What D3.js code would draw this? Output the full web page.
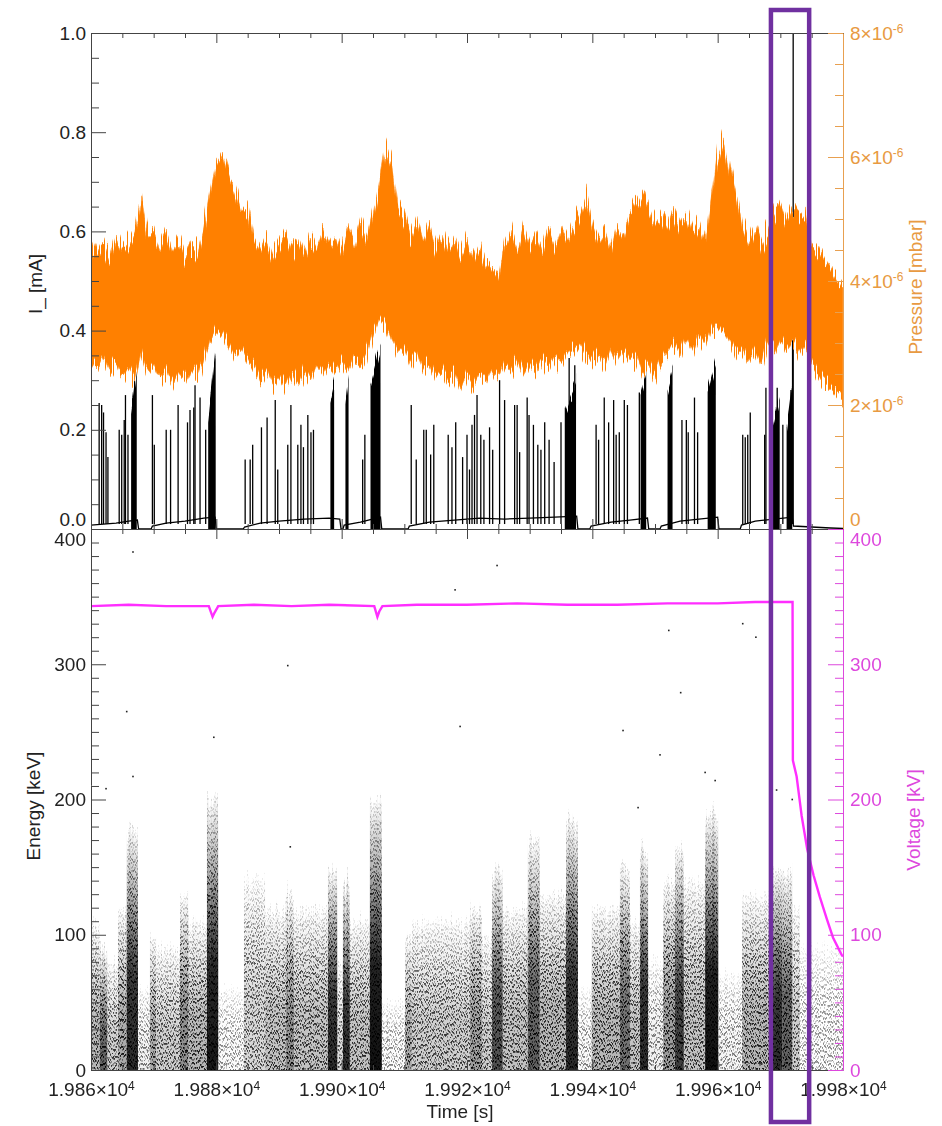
<!DOCTYPE html>
<html>
<head>
<meta charset="utf-8">
<script src="https://cdn.jsdelivr.net/npm/d3@7"></script>
<style>
  body { margin: 0; background: #fff; }
  svg text { font-family: "Liberation Sans", Arial, sans-serif; }
</style>
</head>
<body>
<div id="chart"></div>
<script>
// ---- values ----
var timeDomain = [19860, 19980];
var timeTicks = [19860, 19880, 19900, 19920, 19940, 19960, 19980];

// pressure band (units of 1e-6 mbar), one sample per second from 19860 s
var pressStart = 19860;
var pressUpper = [4.66, 4.42, 4.58, 4.37, 4.71, 4.50, 4.63, 4.79, 5.31, 4.74,
  4.85, 4.58, 4.79, 4.50, 4.66, 4.42, 4.61, 4.50, 4.85, 5.39,
  5.87, 6.03, 5.71, 5.47, 5.15, 5.18, 4.66, 4.50, 4.69, 4.42,
  4.58, 4.74, 4.50, 4.66, 4.42, 4.69, 4.53, 4.79, 4.58, 4.74,
  4.50, 4.82, 4.58, 4.90, 4.66, 5.06, 5.55, 6.11, 5.87, 5.23,
  5.06, 4.74, 4.98, 4.66, 4.90, 4.58, 4.79, 4.50, 4.69, 4.42,
  4.66, 4.37, 4.58, 4.31, 4.18, 4.06, 4.58, 4.79, 4.50, 4.85,
  4.58, 4.74, 4.50, 4.82, 4.58, 4.85, 4.66, 4.90, 5.06, 5.31,
  4.90, 4.66, 4.82, 4.53, 4.90, 4.74, 5.06, 5.23, 5.39, 5.15,
  4.90, 5.06, 4.85, 5.11, 4.90, 5.06, 4.79, 4.95, 4.66, 5.31,
  6.03, 6.31, 5.79, 5.39, 4.90, 4.66, 4.90, 4.63, 4.82, 5.06,
  5.23, 4.98, 5.18, 5.06, 5.11, 4.58, 4.50, 4.34, 4.21, 4.05, 3.94];
var pressLower = [2.73, 2.60, 2.76, 2.53, 2.65, 2.44, 2.56, 2.40, 2.81, 2.53,
  2.60, 2.40, 2.53, 2.32, 2.48, 2.37, 2.56, 2.44, 2.73, 3.05,
  3.21, 3.13, 2.97, 2.81, 2.89, 2.73, 2.60, 2.40, 2.53, 2.32,
  2.44, 2.29, 2.48, 2.32, 2.53, 2.40, 2.60, 2.48, 2.65, 2.53,
  2.69, 2.56, 2.76, 2.65, 2.81, 3.13, 3.37, 3.29, 3.05, 2.85,
  2.92, 2.69, 2.81, 2.56, 2.65, 2.44, 2.53, 2.37, 2.48, 2.24,
  2.44, 2.32, 2.48, 2.37, 2.56, 2.44, 2.65, 2.53, 2.69, 2.48,
  2.65, 2.53, 2.73, 2.60, 2.76, 2.65, 2.81, 2.89, 2.97, 2.81,
  2.69, 2.81, 2.65, 2.89, 2.69, 2.85, 2.73, 2.76, 2.53, 2.65,
  2.48, 2.69, 2.85, 2.97, 2.81, 3.05, 2.85, 3.08, 2.97, 3.21,
  3.24, 3.18, 3.02, 2.81, 2.89, 2.69, 2.85, 2.65, 2.97, 2.85,
  3.05, 2.89, 3.02, 2.85, 2.97, 2.65, 2.48, 2.37, 2.27, 2.16, 2.11];

// current baseline [s] / [mA]
var baseTime = [19860, 19862, 19864, 19866, 19867.4, 19867.6, 19869.6, 19869.8, 19872, 19875,
  19878, 19879.8, 19880, 19884.3, 19884.5, 19887, 19890, 19894, 19898, 19899.7,
  19899.9, 19900.2, 19900.4, 19903, 19906.2, 19906.4, 19910.6, 19910.8, 19914, 19918,
  19922, 19926, 19930, 19934, 19937.5, 19937.7, 19939.6, 19939.8, 19943, 19946,
  19948.8, 19949, 19950.8, 19951, 19954, 19957, 19960, 19960.2, 19963.6, 19963.8,
  19966, 19969, 19971.9, 19972.1, 19975, 19978, 19980];
var baseCurrent = [0.008, 0.010, 0.012, 0.016, 0.018, 0, 0, 0.006, 0.012, 0.016,
  0.022, 0.024, 0, 0, 0.004, 0.012, 0.016, 0.020, 0.022, 0.020,
  0, 0, 0.008, 0.014, 0.024, 0, 0, 0.006, 0.014, 0.018,
  0.022, 0.020, 0.022, 0.024, 0.026, 0, 0, 0.006, 0.014, 0.018,
  0.022, 0, 0, 0.006, 0.016, 0.020, 0.024, 0, 0, 0.008,
  0.016, 0.020, 0.024, 0.006, 0.004, 0.002, 0.001];

// single discharge spikes
var spikeTime = [19861.3, 19861.7, 19862.0, 19862.4, 19862.7, 19864.5, 19864.9, 19865.3, 19865.5, 19865.9,
  19869.8, 19870.1, 19872.0, 19872.7, 19873.9, 19875.4, 19875.8, 19876.4, 19876.6, 19877.4,
  19878.3, 19884.6, 19885.4, 19885.8, 19887.2, 19888.1, 19889.4, 19889.8, 19891.4, 19891.9,
  19893.0, 19893.5, 19893.9, 19894.6, 19895.1, 19895.5, 19903.35, 19903.7, 19911.1, 19911.9,
  19913.1, 19913.5, 19914.2, 19914.7, 19917.0, 19917.6, 19918.2, 19919.3, 19920.0, 19920.4,
  19920.8, 19921.2, 19921.6, 19922.2, 19922.7, 19923.6, 19924.1, 19925.2, 19926.0, 19927.6,
  19928.0, 19928.4, 19929.6, 19929.9, 19930.6, 19931.3, 19931.8, 19932.4, 19933.1, 19933.9,
  19935.0, 19936.3, 19937.2, 19940.6, 19941.0, 19941.9, 19942.6, 19943.4, 19943.8, 19944.3,
  19945.1, 19945.6, 19947.5, 19954.3, 19955.0, 19955.3, 19956.3, 19956.8, 19964.0, 19964.4,
  19964.8, 19965.2, 19967.5, 19967.7, 19969.5, 19970.4, 19971.2, 19971.7, 19971.95, 19972.05];
var spikeHeight = [0.254, 0.25, 0.235, 0.195, 0.145, 0.20, 0.19, 0.22, 0.27, 0.19,
  0.27, 0.17, 0.20, 0.20, 0.25, 0.215, 0.24, 0.245, 0.29, 0.265,
  0.20, 0.14, 0.14, 0.17, 0.205, 0.225, 0.26, 0.12, 0.17, 0.25,
  0.17, 0.21, 0.165, 0.23, 0.195, 0.20, 0.14, 0.19, 0.25, 0.14,
  0.20, 0.20, 0.15, 0.21, 0.19, 0.165, 0.215, 0.145, 0.19, 0.12,
  0.21, 0.23, 0.27, 0.19, 0.18, 0.205, 0.16, 0.30, 0.26, 0.25,
  0.25, 0.155, 0.265, 0.23, 0.21, 0.17, 0.16, 0.215, 0.18, 0.135,
  0.215, 0.345, 0.33, 0.21, 0.18, 0.265, 0.215, 0.26, 0.19, 0.195,
  0.26, 0.25, 0.275, 0.22, 0.22, 0.195, 0.265, 0.195, 0.19, 0.185,
  0.19, 0.235, 0.19, 0.285, 0.285, 0.21, 0.17, 0.28, 0.38, 1.0];

// dense spike bursts: start, end, height at start, height at end
var burstStart = [19866.4, 19878.7, 19898.2, 19900.6, 19904.6, 19935.6, 19947.7, 19952.0, 19958.4, 19968.6, 19971.0];
var burstEnd   = [19867.3, 19879.9, 19898.8, 19901.1, 19906.2, 19937.4, 19948.6, 19952.8, 19959.7, 19969.9, 19971.9];
var burstLow   = [0.24, 0.22, 0.26, 0.26, 0.29, 0.24, 0.27, 0.28, 0.28, 0.20, 0.20];
var burstHigh  = [0.33, 0.37, 0.295, 0.315, 0.37, 0.30, 0.315, 0.32, 0.345, 0.27, 0.29];

// detected X-ray events: bands of time with upper energy [keV] and density
var bandStart = [19860.0, 19861.4, 19862.6, 19864.3, 19865.7, 19867.5, 19869.4, 19870.4, 19874.2, 19875.5,
  19878.5, 19880.3, 19884.4, 19887.8, 19891.1, 19892.4, 19897.8, 19899.3, 19900.2, 19901.3,
  19904.5, 19906.4, 19910.1, 19911.2, 19920.5, 19922.4, 19924.0, 19925.7, 19929.7, 19931.6,
  19935.8, 19937.7, 19939.9, 19944.4, 19946.0, 19947.6, 19948.9, 19951.3, 19953.2, 19954.6,
  19958.0, 19960.1, 19963.9, 19968.3, 19970.3, 19971.9, 19973.1];
var bandEnd = [19861.4, 19862.6, 19864.3, 19865.7, 19867.5, 19869.4, 19870.4, 19874.2, 19875.5, 19878.5,
  19880.3, 19884.4, 19887.8, 19891.1, 19892.4, 19897.8, 19899.3, 19900.2, 19901.3, 19904.5,
  19906.4, 19910.1, 19911.2, 19920.5, 19922.4, 19924.0, 19925.7, 19929.7, 19931.6, 19935.8,
  19937.7, 19939.9, 19944.4, 19946.0, 19947.6, 19948.9, 19951.3, 19953.2, 19954.6, 19958.0,
  19960.1, 19963.9, 19968.3, 19970.3, 19971.9, 19973.1, 19980.0];
var bandTop = [110, 90, 80, 120, 180, 60, 100, 90, 130, 110,
  200, 60, 140, 120, 130, 120, 150, 80, 140, 110,
  200, 50, 100, 110, 120, 100, 150, 120, 170, 130,
  185, 60, 120, 150, 110, 165, 80, 140, 165, 140,
  190, 70, 130, 150, 150, 120, 90];
var bandDensity = [0.45, 0.75, 0.35, 0.5, 0.9, 0.15, 0.5, 0.35, 0.6, 0.45,
  0.95, 0.08, 0.3, 0.4, 0.6, 0.4, 0.9, 0.3, 0.9, 0.4,
  0.97, 0.08, 0.5, 0.35, 0.55, 0.35, 0.8, 0.4, 0.75, 0.45,
  0.9, 0.1, 0.45, 0.7, 0.4, 0.9, 0.15, 0.55, 0.85, 0.4,
  0.97, 0.12, 0.45, 0.9, 0.75, 0.35, 0.05];

// isolated high-energy events
var eventTime = [19866.7, 19865.7, 19866.7, 19879.6, 19862.4, 19891.4, 19891.8, 19918.9, 19918.1, 19924.8,
  19944.9, 19950.8, 19952.2, 19954.1, 19958.0, 19959.6, 19964.0, 19966.1, 19969.4, 19947.3, 19971.9];
var eventEnergy = [383, 265, 217, 246, 208, 299, 165, 254, 355, 373,
  251, 233, 325, 279, 220, 214, 330, 320, 207, 194, 200];

// accelerating voltage [kV]
var voltTime = [19860, 19866, 19872, 19878.8, 19879.4, 19879.7, 19880.3, 19886, 19892, 19898,
  19905.2, 19905.7, 19906.0, 19906.5, 19912, 19920, 19928, 19936, 19944, 19952,
  19960, 19966, 19971.95, 19972.0, 19972.6, 19973.4, 19974.3, 19975.3, 19976.3, 19977.4,
  19978.4, 19979.8, 19980];
var voltValue = [343, 344, 343, 343, 335, 338, 343, 344, 343, 344,
  343, 335, 339, 343, 344, 344, 345, 344, 344, 345,
  345, 346, 346, 229, 217, 188, 163, 144, 128, 112,
  98, 85, 84];

// highlighted interval
var boxTime = [19968.5, 19974.6];

// ---- layout ----
var W = 942, H = 1126;
var left = 91, right = 843, top1 = 33, mid = 529, bot = 1070;
var orange = "#ff8000", orangeText = "#e89a42", magenta = "#ff2eff", magentaText = "#dd48dd";
var axisColor = "#444";

var svg = d3.select("#chart").append("svg")
  .attr("width", W).attr("height", H)
  .style("background", "#fff");

var defs = svg.append("defs");
defs.append("clipPath").attr("id", "clipTop").append("rect")
  .attr("x", left).attr("y", top1).attr("width", right - left).attr("height", mid - top1);
defs.append("clipPath").attr("id", "clipBot").append("rect")
  .attr("x", left).attr("y", mid).attr("width", right - left).attr("height", bot - mid);

// hairline texture: shift each pixel column up/down a little, so the
// filled envelopes look like the densely sampled traces of the original
function hairFilter(id, freq, amount) {
  var f = defs.append("filter").attr("id", id)
    .attr("filterUnits", "userSpaceOnUse")
    .attr("x", 0).attr("y", 0).attr("width", W).attr("height", H);
  f.append("feTurbulence").attr("type", "fractalNoise")
    .attr("baseFrequency", freq).attr("numOctaves", 2).attr("seed", 7).attr("result", "noise");
  f.append("feColorMatrix").attr("in", "noise").attr("type", "matrix")
    .attr("values", "1 0 0 0 0  0 0 0 0 0.5  0 0 0 0 0  0 0 0 0 1").attr("result", "shift");
  f.append("feDisplacementMap").attr("in", "SourceGraphic").attr("in2", "shift")
    .attr("scale", amount).attr("xChannelSelector", "G").attr("yChannelSelector", "R");
}
hairFilter("hairTop", "0.9 0.003", 46);
hairFilter("hairBot", "0.7 0.002", 40);

// fade for event bands (dense at low energy, sparse at the top)
var grad = defs.append("linearGradient").attr("id", "fadeUp")
  .attr("x1", 0).attr("y1", 1).attr("x2", 0).attr("y2", 0);
grad.append("stop").attr("offset", 0).attr("stop-color", "#000").attr("stop-opacity", 1);
grad.append("stop").attr("offset", 0.45).attr("stop-color", "#000").attr("stop-opacity", 0.9);
grad.append("stop").attr("offset", 0.75).attr("stop-color", "#000").attr("stop-opacity", 0.35);
grad.append("stop").attr("offset", 1).attr("stop-color", "#000").attr("stop-opacity", 0);

var wgrad = defs.append("linearGradient").attr("id", "whiteFade")
  .attr("x1", 0).attr("y1", 1).attr("x2", 0).attr("y2", 0);
wgrad.append("stop").attr("offset", 0).attr("stop-color", "#fff").attr("stop-opacity", 1);
wgrad.append("stop").attr("offset", 0.65).attr("stop-color", "#fff").attr("stop-opacity", 0.85);
wgrad.append("stop").attr("offset", 1).attr("stop-color", "#fff").attr("stop-opacity", 0.1);
defs.append("mask").attr("id", "fadeMask")
  .attr("maskContentUnits", "objectBoundingBox")
  .append("rect").attr("width", 1).attr("height", 1).attr("fill", "url(#whiteFade)");

// stipple texture so the bands read as scattered dots
var pat = defs.append("pattern").attr("id", "speckle")
  .attr("patternUnits", "userSpaceOnUse").attr("width", 13).attr("height", 17);
[[0, 1], [3, 4], [5, 0], [1, 9], [4, 13], [6, 7], [2, 15], [8, 3], [10, 10], [9, 14],
 [11, 5], [7, 11], [12, 1], [3, 12], [8, 16], [6, 2], [1, 5], [11, 13], [5, 10], [9, 7],
 [12, 8], [0, 14], [4, 6], [10, 2]].forEach(function (p) {
  pat.append("rect").attr("x", p[0]).attr("y", p[1]).attr("width", 1.5).attr("height", 1.8).attr("fill", "#000");
});

// ---- scales ----
var x = d3.scaleLinear().domain(timeDomain).range([left, right]);
var yI = d3.scaleLinear().domain([0, 1]).range([mid, top1]);
var yP = d3.scaleLinear().domain([0, 8]).range([mid, top1]);
var yE = d3.scaleLinear().domain([0, 400]).range([bot, mid]);

// ---- top panel: current and pressure ----
var topG = svg.append("g").attr("clip-path", "url(#clipTop)");

topG.append("path")
  .datum(baseTime.map(function (t, i) { return [t, baseCurrent[i]]; }))
  .attr("fill", "none").attr("stroke", "#000").attr("stroke-width", 1.3)
  .attr("d", d3.line().x(d => x(d[0])).y(d => yI(d[1])));

var bursts = burstStart.map(function (t, i) {
  return [[t, burstLow[i]], [burstEnd[i], burstHigh[i]]];
});
topG.append("g").attr("filter", "url(#hairBot)")
  .selectAll(".burst").data(bursts).enter().append("path")
  .attr("class", "burst").attr("fill", "#000")
  .attr("d", d3.area().x(d => x(d[0])).y0(yI(-0.03)).y1(d => yI(d[1])));

topG.selectAll(".spike").data(spikeTime).enter().append("line")
  .attr("class", "spike")
  .attr("x1", d => x(d)).attr("x2", d => x(d))
  .attr("y1", yI(0.01)).attr("y2", (d, i) => yI(spikeHeight[i]))
  .attr("stroke", "#000").attr("stroke-width", 1.3);

var press = pressUpper.map(function (u, i) {
  return { t: pressStart + i, u: u, l: pressLower[i] };
});
topG.append("g").attr("filter", "url(#hairTop)")
  .append("path").datum(press)
  .attr("fill", orange).attr("stroke", "#ffa245").attr("stroke-width", 0.8)
  .attr("d", d3.area().x(d => x(d.t)).y0(d => yP(d.l)).y1(d => yP(d.u)));

// ---- bottom panel: events and voltage ----
var botG = svg.append("g").attr("clip-path", "url(#clipBot)");
var bandG = botG.append("g").attr("filter", "url(#hairBot)");
var bands = bandStart.map(function (t, i) {
  return { t0: t, t1: bandEnd[i], top: bandTop[i], dens: bandDensity[i] };
});
bandG.selectAll(".band").data(bands).enter().append("rect")
  .attr("class", "band")
  .attr("x", d => x(d.t0)).attr("width", d => x(d.t1) - x(d.t0))
  .attr("y", d => yE(d.top)).attr("height", d => yE(-20) - yE(d.top))
  .attr("fill", "url(#fadeUp)").attr("opacity", d => Math.pow(d.dens, 1.5));
bandG.selectAll(".speck").data(bands).enter().append("rect")
  .attr("class", "speck")
  .attr("x", d => x(d.t0)).attr("width", d => x(d.t1) - x(d.t0))
  .attr("y", d => yE(d.top)).attr("height", d => yE(-20) - yE(d.top))
  .attr("fill", "url(#speckle)").attr("mask", "url(#fadeMask)")
  .attr("opacity", d => Math.min(1, 0.45 + d.dens));

botG.selectAll(".event").data(eventTime).enter().append("rect")
  .attr("class", "event")
  .attr("x", d => x(d) - 0.8).attr("y", (d, i) => yE(eventEnergy[i]) - 0.8)
  .attr("width", 1.6).attr("height", 1.6).attr("fill", "#222");

botG.append("path")
  .datum(voltTime.map(function (t, i) { return [t, voltValue[i]]; }))
  .attr("fill", "none").attr("stroke", magenta).attr("stroke-width", 2.4)
  .attr("d", d3.line().x(d => x(d[0])).y(d => yE(d[1])));

// ---- axes ----
function minorValues(lo, hi, step, majorStep) {
  return d3.range(lo, hi + step / 2, step).filter(function (v) {
    var r = Math.abs(v / majorStep - Math.round(v / majorStep));
    return r > 1e-6;
  });
}
function styleAxis(g, color) {
  g.selectAll("path").attr("stroke", color);
  g.selectAll("line").attr("stroke", color);
  g.selectAll("text").attr("fill", color).style("font-size", "19px");
}

var xMinor = minorValues(19860, 19980, 5, 20);

// x ticks on the three horizontal edges
[[top1, d3.axisTop], [mid, d3.axisBottom], [mid, d3.axisTop], [bot, d3.axisBottom]].forEach(function (a, k) {
  var gMaj = svg.append("g").attr("transform", "translate(0," + a[0] + ")")
    .call(a[1](x).tickValues(timeTicks).tickSize(-10).tickSizeOuter(0).tickPadding(13)
      .tickFormat(k === 3 ? null : ""));
  var gMin = svg.append("g").attr("transform", "translate(0," + a[0] + ")")
    .call(a[1](x).tickValues(xMinor).tickSize(-5).tickSizeOuter(0).tickFormat(""));
  gMin.select(".domain").remove();
  styleAxis(gMaj, axisColor); styleAxis(gMin, axisColor);
  if (k === 3) {
    gMaj.selectAll("text").attr("fill", "#222").each(function (d) {
      var t = d3.select(this).text(null);
      t.append("tspan").text((d / 1e4).toFixed(3) + "×10");
      t.append("tspan").attr("dy", "-0.55em").style("font-size", "12px").text("4");
    });
  }
});

function yAxes(side, scale, majors, minors, color, fmt, pad) {
  var pos = side === "left" ? left : right;
  var gen = side === "left" ? d3.axisLeft : d3.axisRight;
  var gMaj = svg.append("g").attr("transform", "translate(" + pos + ",0)")
    .call(gen(scale).tickValues(majors).tickSize(-15).tickSizeOuter(0).tickPadding(pad).tickFormat(fmt));
  var gMin = svg.append("g").attr("transform", "translate(" + pos + ",0)")
    .call(gen(scale).tickValues(minors).tickSize(-8).tickSizeOuter(0).tickFormat(""));
  gMin.select(".domain").remove();
  styleAxis(gMaj, color); styleAxis(gMin, color);
  return gMaj;
}

var gI = yAxes("left", yI, [0, 0.2, 0.4, 0.6, 0.8, 1.0], minorValues(0, 1, 0.05, 0.2), axisColor, d3.format(".1f"), 5);
gI.selectAll("text").attr("fill", "#222");
var gE = yAxes("left", yE, [0, 100, 200, 300, 400], minorValues(0, 400, 10, 100), axisColor, d3.format("d"), 5);
gE.selectAll("text").attr("fill", "#222");

var gP = yAxes("right", yP, [0, 2, 4, 6, 8], minorValues(0, 8, 0.5, 2), "#e8a050", function (d) { return d; }, 7);
gP.selectAll("text").attr("fill", orangeText).each(function (d) {
  if (d === 0) return;
  var t = d3.select(this).text(null);
  t.append("tspan").text(d + "×10");
  t.append("tspan").attr("dy", "-0.55em").style("font-size", "12px").text("-6");
});
var gV = yAxes("right", yE, [0, 100, 200, 300, 400], minorValues(0, 400, 10, 100), magentaText, d3.format("d"), 7);

// the two panels share the 0 / 400 line: nudge those labels apart
gI.selectAll(".tick").filter(d => d === 0).select("text").attr("y", -10);
gP.selectAll(".tick").filter(d => d === 0).select("text").attr("y", -10);
gE.selectAll(".tick").filter(d => d === 400).select("text").attr("y", 10);
gV.selectAll(".tick").filter(d => d === 400).select("text").attr("y", 10);

// ---- axis titles ----
function vTitle(xp, yp, txt, color) {
  svg.append("text").attr("transform", "translate(" + xp + "," + yp + ") rotate(-90)")
    .attr("text-anchor", "middle").attr("fill", color).style("font-size", "19px").text(txt);
}
vTitle(42, 284, "I_ [mA]", "#222");
vTitle(40, 806, "Energy [keV]", "#222");
vTitle(922, 287, "Pressure [mbar]", orangeText);
vTitle(920, 820, "Voltage [kV]", magentaText);
svg.append("text").attr("x", 460).attr("y", 1118).attr("text-anchor", "middle")
  .attr("fill", "#222").style("font-size", "19px").text("Time [s]");

// ---- highlight box ----
svg.append("rect")
  .attr("x", x(boxTime[0])).attr("width", x(boxTime[1]) - x(boxTime[0]))
  .attr("y", 10).attr("height", 1112)
  .attr("fill", "none").attr("stroke", "#7030a0").attr("stroke-width", 4.5);
</script>
</body>
</html>
